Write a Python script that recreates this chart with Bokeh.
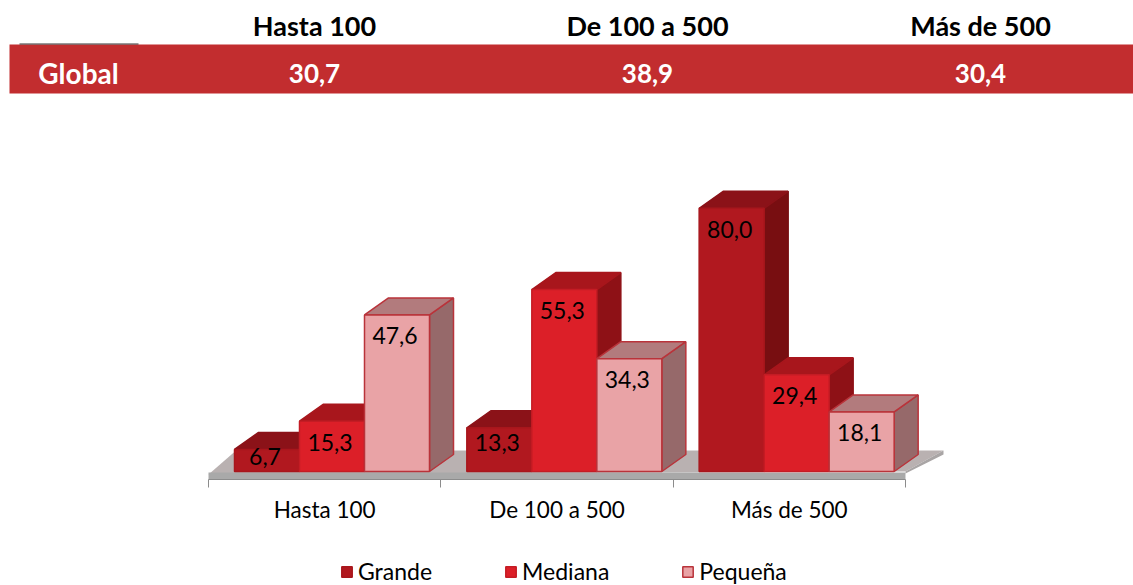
from bokeh.embed import file_html
from bokeh.resources import INLINE
from bokeh.plotting import figure
from bokeh.models import Range1d, FixedTicker, LinearAxis, Legend, LegendItem
from bokeh.core.properties import value

FONT = "Lato"

# ---- data
categories = ["Hasta 100", "De 100 a 500", "Más de 500"]
series = ["Grande", "Mediana", "Pequeña"]
grande = [6.7, 13.3, 80.0]
mediana = [15.3, 55.3, 29.4]
pequena = [47.6, 34.3, 18.1]
global_label = "Global"
global_values = ["30,7", "38,9", "30,4"]

# ---- look
FRONT = ["#B1181F", "#DC1F28", "#E9A3A6"]
TOP = ["#8B1218", "#A8161C", "#B27B7D"]
SIDE = ["#780E11", "#8E1116", "#96696A"]
EDGE = ["#A8161C", "#C41C24", "#B9333A"]
TOP_EDGE = ["#8B1218", "#A8161C", "#B9333A"]
SIDE_EDGE = ["#780E11", "#8E1116", "#B9333A"]
BAND = "#C22D2F"

# page geometry
PAGE_W, PAGE_H = 1133, 585
AXIS_PAGE_Y = 479          # page y of the axis
BASE_PAGE_Y = 471          # page y of value 0
PX_PER_VALUE = 3.29
PX_PER_GROUP = 232.33
AXIS_PAGE_X = 208
DX = 24 / PX_PER_GROUP     # 3D depth
DY = 17 / PX_PER_VALUE
BAR_W = 65 / PX_PER_GROUP
SIDE_GAP = 26 / PX_PER_GROUP
AXIS_VALUE = -(AXIS_PAGE_Y - BASE_PAGE_Y) / PX_PER_VALUE

p = figure(
    width=PAGE_W, height=PAGE_H, frame_width=PAGE_W, frame_height=PAGE_H,
    output_backend="svg", toolbar_location=None,
    x_range=Range1d(-AXIS_PAGE_X / PX_PER_GROUP, (PAGE_W - AXIS_PAGE_X) / PX_PER_GROUP),
    y_range=Range1d(-(PAGE_H - BASE_PAGE_Y) / PX_PER_VALUE, BASE_PAGE_Y / PX_PER_VALUE),
    x_axis_type=None, y_axis_type=None,
    min_border=0,
    outline_line_color=None, background_fill_color="white", border_fill_color="white",
)
p.grid.visible = False

# secondary ranges in page pixels, for the table block
p.extra_x_ranges["page"] = Range1d(0, PAGE_W)
p.extra_y_ranges["page"] = Range1d(PAGE_H, 0)

# ---- table block
p.quad(left=[9], right=[PAGE_W], top=[44], bottom=[93], fill_color=BAND, line_color=None,
       x_range_name="page", y_range_name="page")
p.segment(x0=[19], x1=[138], y0=[43.5], y1=[43.5], line_color="#333333", line_width=1,
          x_range_name="page", y_range_name="page")
table_x = [314, 647, 980]
p.text(x=table_x, y=[25] * 3, text=categories, text_font=value(FONT), text_font_style="bold",
       text_font_size="27px", text_align="center", text_baseline="middle", text_color="black",
       x_range_name="page", y_range_name="page")
p.text(x=table_x, y=[73] * 3, text=global_values, text_font=value(FONT), text_font_style="bold",
       text_font_size="26px", text_align="center", text_baseline="middle", text_color="white",
       x_range_name="page", y_range_name="page")
p.text(x=[78], y=[72], text=[global_label], text_font=value(FONT), text_font_style="bold",
       text_font_size="28px", text_align="center", text_baseline="middle", text_color="white",
       x_range_name="page", y_range_name="page")

# ---- floor
n = len(categories)
FLOOR_R = 38 / PX_PER_GROUP
p.patch(x=[0, DX * 1.15, n + FLOOR_R, n],
        y=[-3 / PX_PER_VALUE, DY + 4 / PX_PER_VALUE, DY + 4 / PX_PER_VALUE, 0],
        fill_color="#B9B1B1", line_color=None)
p.patch(x=[n, n + FLOOR_R, n + FLOOR_R, n],
        y=[0, DY + 4 / PX_PER_VALUE, DY + 0 / PX_PER_VALUE, -2 / PX_PER_VALUE],
        fill_color="#A9A5A5", line_color=None)
p.quad(left=[0], right=[n], top=[-1 / PX_PER_VALUE], bottom=[AXIS_VALUE],
       fill_color="#A9A9A9", line_color=None)

# ---- bars, drawn left to right so nearer faces overlap
values_by_series = [grande, mediana, pequena]
first_fronts = {}
for c in range(n):
    left0 = c + SIDE_GAP
    for s in range(3):
        v = values_by_series[s][c]
        x0, x1 = left0 + s * BAR_W, left0 + (s + 1) * BAR_W
        p.patch(x=[x1, x1 + DX, x1 + DX, x1], y=[0, DY, v + DY, v],
                fill_color=SIDE[s], line_color=SIDE_EDGE[s], line_width=1.5)
        p.patch(x=[x0, x0 + DX, x1 + DX, x1], y=[v, v + DY, v + DY, v],
                fill_color=TOP[s], line_color=TOP_EDGE[s], line_width=1.5)
        r = p.quad(left=[x0], right=[x1], bottom=[0], top=[v],
                   fill_color=FRONT[s], line_color=EDGE[s], line_width=1.5)
        first_fronts.setdefault(s, r)

# ---- value labels
for c in range(n):
    left0 = c + SIDE_GAP
    for s in range(3):
        v = values_by_series[s][c]
        h = v * PX_PER_VALUE
        off = 21 if h > 46 else (15 if h > 30 else 7)
        p.text(x=[left0 + (s + 0.5) * BAR_W - 2 / PX_PER_GROUP], y=[v], text=[f"{v:.1f}".replace(".", ",")],
               text_font=value(FONT), text_font_size="23px", text_align="center",
               text_baseline="middle", text_color="black", y_offset=off)

# ---- axis, fixed at its place inside the page-sized frame
centres = [i + 0.5 for i in range(n)]
axis = LinearAxis(
    fixed_location=AXIS_VALUE,
    ticker=FixedTicker(ticks=centres, minor_ticks=list(range(n + 1))),
    major_label_overrides={c: t for c, t in zip(centres, categories)},
    major_tick_line_color=None, major_tick_out=0, major_tick_in=0,
    minor_tick_line_color="#8C8C8C", minor_tick_line_width=1, minor_tick_out=8, minor_tick_in=0,
    axis_line_color="#8C8C8C", axis_line_width=1, bounds=(0, n),
    major_label_text_font=FONT, major_label_text_font_size="22.5px", major_label_text_color="black",
    major_label_standoff=8,
)
p.add_layout(axis, "below")

# ---- legend
legend = Legend(
    items=[LegendItem(label=series[s], renderers=[first_fronts[s]]) for s in range(3)],
    orientation="horizontal", location=(340, 0),
    glyph_width=13, glyph_height=13, label_standoff=5, spacing=72, padding=0, margin=0,
    label_text_font=FONT, label_text_font_size="23px", label_text_color="black",
    label_height=20, border_line_color=None, background_fill_alpha=0,
)
p.add_layout(legend)

open("out.html", "w").write(file_html(p, INLINE))
